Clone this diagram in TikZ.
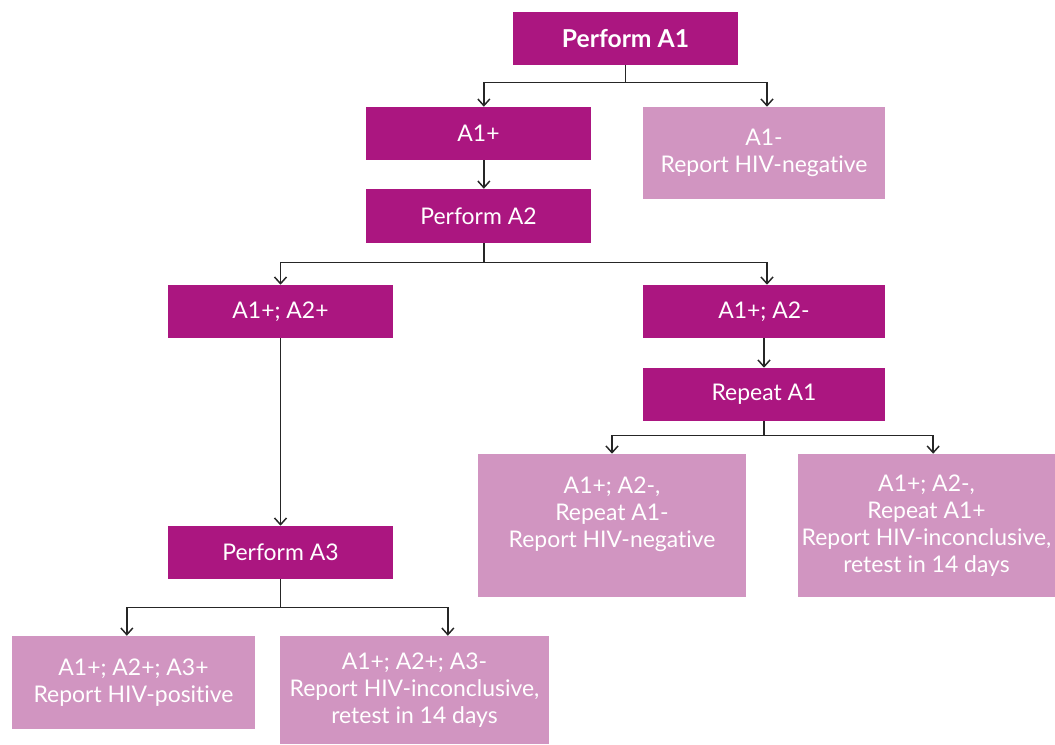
\documentclass[tikz,border=0pt]{standalone}
\usepackage{fontspec}
\setmainfont{Lato}[Ligatures=NoCommon]
\usetikzlibrary{arrows.meta}
\definecolor{plum}{HTML}{AB1680}
\definecolor{lilac}{HTML}{D195C1}
\begin{document}
\begin{tikzpicture}[x=0.75pt,y=-0.75pt,
  every node/.style={text=white,align=center,inner sep=0pt,
    font=\fontsize{17.2}{20.25}\selectfont},
  stepbox/.style={fill=plum,minimum width=168.75pt,minimum height=39.75pt},
  result/.style={fill=lilac},
  arr/.style={draw=black!85,line width=1.1pt,-{Straight Barb[length=5pt,width=9pt]}},
  link/.style={draw=black!85,line width=1.1pt}]
\useasboundingbox (0,0) rectangle (1055,744);

% decision steps
\node[stepbox,font=\fontsize{18.5}{20}\selectfont\bfseries] (pa1) at (625.5,38.5) {Perform A1};
\node[stepbox] (a1p) at (478.5,133.5) {A1+};
\node[stepbox,minimum height=40.5pt] (pa2) at (478.5,216) {Perform A2};
\node[stepbox] (a2p) at (280.5,311.5) {A1+; A2+};
\node[stepbox,minimum width=181.5pt] (a2m) at (764,311.5) {A1+; A2-};
\node[stepbox,minimum width=181.5pt] (rep) at (764,394.5) {Repeat A1};
\node[stepbox] (pa3) at (280.5,552.5) {Perform A3};

% outcomes
\node[result,minimum width=181.5pt,minimum height=69pt] (neg1) at (764,153)
  {A1-\\Report HIV-negative};
\node[result,minimum width=201pt,minimum height=107.25pt] (neg2) at (612,525.5)
  {A1+; A2-,\\Repeat A1-\\Report HIV-negative\\\mbox{}};
\node[result,minimum width=192.75pt,minimum height=107.25pt] (inc1) at (926.5,525.5)
  {A1+; A2-,\\Repeat A1+\\Report HIV-inconclusive,\\retest in 14 days};
\node[result,minimum width=182.25pt,minimum height=69.75pt] (pos) at (133.5,682.5)
  {A1+; A2+; A3+\\Report HIV-positive};
\node[result,minimum width=201.75pt,minimum height=81pt] (inc2) at (414.5,690)
  {A1+; A2+; A3-\\Report HIV-inconclusive,\\retest in 14 days};

% connectors
\draw[link] (pa1.south) -- ++(0,17) coordinate (s1);
\draw[arr] (s1) -| ([xshift=4pt]a1p.north);
\draw[arr] (s1) -| ([xshift=2.25pt]neg1.north);
\draw[arr] ([xshift=4pt]a1p.south) -- ([xshift=4pt]pa2.north);
\draw[link] ([xshift=4pt]pa2.south) -- ++(0,19) coordinate (s2);
\draw[arr] (s2) -| (a2p.north);
\draw[arr] (s2) -| ([xshift=2.25pt]a2m.north);
\draw[arr] (a2p.south) -- (pa3.north);
\draw[arr] (a2m.south) -- (rep.north);
\draw[link] (rep.south) -- ++(0,14) coordinate (s3);
\draw[arr] (s3) -| (neg2.north);
\draw[arr] (s3) -| ([xshift=5pt]inc1.north);
\draw[link] (pa3.south) -- ++(0,28) coordinate (s4);
\draw[arr] (s4) -| ([xshift=-5pt]pos.north);
\draw[arr] (s4) -| ([xshift=25pt]inc2.north);
\end{tikzpicture}
\end{document}
